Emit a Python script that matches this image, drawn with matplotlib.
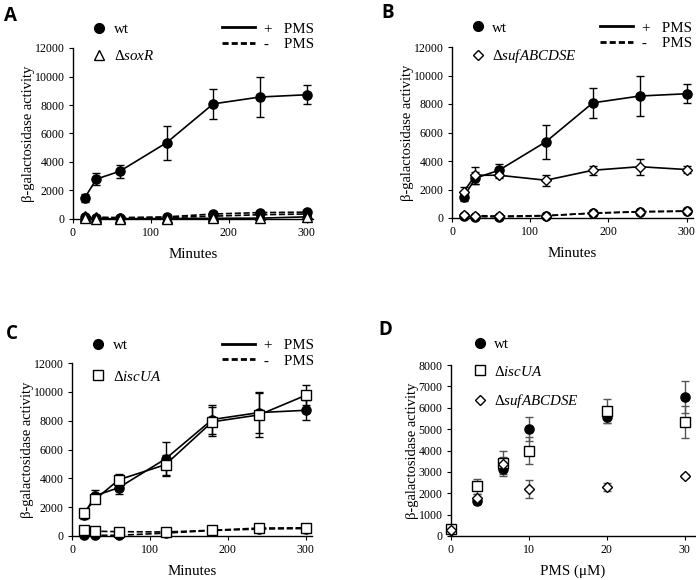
import matplotlib
matplotlib.use("Agg")
import matplotlib.pyplot as plt
from matplotlib.lines import Line2D

plt.rcParams['font.family'] = ['Liberation Serif', 'DejaVu Serif']
plt.rcParams['mathtext.fontset'] = 'custom'
plt.rcParams['mathtext.rm'] = 'Liberation Serif'
plt.rcParams['mathtext.it'] = 'Liberation Serif:italic'

# ---------------- data ----------------
minutes = [15, 30, 60, 120, 180, 240, 300]

wt_pms = [1480, 2800, 3350, 5350, 8080, 8560, 8720]
wt_pms_err = [300, 420, 470, 1200, 1030, 1400, 680]
wt_nopms = [150, 100, 80, 150, 350, 450, 480]
wt_nopms_err = [40, 30, 30, 40, 60, 60, 60]

soxR_pms = [100, 20, 20, 30, 50, 60, 150]
soxR_pms_err = [30, 10, 10, 10, 20, 20, 30]
soxR_nopms = [200, 120, 100, 100, 200, 300, 350]
soxR_nopms_err = [40, 30, 30, 30, 40, 50, 50]

suf_pms = [1850, 3000, 3000, 2650, 3350, 3600, 3400]
suf_pms_err = [300, 600, 200, 400, 300, 550, 250]
suf_nopms = [200, 170, 130, 170, 330, 430, 480]
suf_nopms_err = [40, 30, 30, 30, 50, 60, 60]

wtC_nopms = [80, 50, 50, 200, 380, 480, 520]
wtC_nopms_err = [30, 20, 20, 40, 50, 60, 60]
isc_pms = [1600, 2550, 3900, 4950, 7920, 8400, 9760]
isc_pms_err = [200, 200, 400, 700, 1000, 1550, 700]
isc_nopms = [400, 330, 300, 280, 400, 550, 570]
isc_nopms_err = [50, 40, 40, 40, 50, 60, 60]

pms_conc = [0, 3.3, 6.7, 10, 20, 30]
d_wt = [280, 1650, 3150, 5000, 5580, 6500]
d_wt_err = [100, 150, 250, 550, 300, 750]
d_isc = [320, 2320, 3400, 4000, 5850, 5330]
d_isc_err = [100, 350, 600, 650, 550, 750]
d_suf = [280, 1800, 3350, 2200, 2300, 2800]
d_suf_err = [100, 150, 350, 400, 200, 100]

ylabel = "β-galactosidase activity"

fig = plt.figure(figsize=(6.96, 5.80), dpi=100)

W, H = 696.0, 580.0
def axes_px(left, top, right, bottom):
    return fig.add_axes([left / W, 1 - bottom / H, (right - left) / W, (bottom - top) / H])

axA = axes_px(73, 48, 313, 219)
axB = axes_px(452, 47, 693, 218)
axC = axes_px(72, 363, 312, 536)
axD = axes_px(451, 365, 695, 536)

MS = 6.6
LW = 1.2
CAP = 3

def style(ax, xlim, ylim, yticks, xticks):
    ax.set_xlim(*xlim)
    ax.set_ylim(*ylim)
    ax.set_yticks(yticks)
    ax.set_xticks(xticks)
    for s in ['top', 'right']:
        ax.spines[s].set_visible(False)
    for s in ['left', 'bottom']:
        ax.spines[s].set_linewidth(1.0)
    ax.tick_params(direction='out', length=3, width=0.8, labelsize=8.6, pad=3)
    ax.set_ylabel(ylabel, fontsize=10.5, labelpad=0)

def series(ax, x, y, e, marker, filled, ls):
    ms = MS - 1 if marker == 'D' else MS
    ax.errorbar(x, y, yerr=e, color='black', ls=ls, lw=LW, marker=marker,
                ms=ms, mfc='black' if filled else 'white', mec='black', mew=1.0,
                ecolor='black', elinewidth=1.0, capsize=CAP, capthick=1.0,
                clip_on=False, zorder=3)

def mk_handles(markers):
    hs = []
    for m in markers:
        if m == 'o':
            hs.append(Line2D([], [], ls='none', marker='o', ms=7, mfc='black', mec='black'))
        else:
            hs.append(Line2D([], [], ls='none', marker=m, ms=5.5 if m == 'D' else 6.5,
                             mfc='white', mec='black', mew=1.0))
    return hs

def legends(ax, mut_marker, mut_label, xm, ym, xl, yl, mspacing):
    leg1 = ax.legend(mk_handles(['o', mut_marker]), ['wt', mut_label], loc='upper left',
                     bbox_to_anchor=(xm, ym), frameon=False, fontsize=10.8,
                     handlelength=0.8, handletextpad=0.55,
                     borderpad=0, borderaxespad=0, labelspacing=mspacing)
    ax.add_artist(leg1)
    h2 = [Line2D([], [], color='black', lw=2.0, ls='-'),
          Line2D([], [], color='black', lw=2.0, ls=(0, (2.2, 1.1)))]
    ax.legend(h2, ['+   PMS', '-    PMS'], loc='upper left', bbox_to_anchor=(xl, yl),
              frameon=False, fontsize=10.8, handlelength=2.2, handletextpad=0.6,
              borderpad=0, borderaxespad=0, labelspacing=0.12)

time_xt = [0, 100, 200, 300]
yt12 = list(range(0, 12001, 2000))

# ---------------- A ----------------
style(axA, (0, 308), (0, 12000), yt12, time_xt)
series(axA, minutes, soxR_nopms, soxR_nopms_err, '^', False, '--')
series(axA, minutes, wt_nopms, wt_nopms_err, 'o', True, '--')
series(axA, minutes, soxR_pms, soxR_pms_err, '^', False, '-')
series(axA, minutes, wt_pms, wt_pms_err, 'o', True, '-')
axA.set_xlabel('Minutes', fontsize=10.8, labelpad=6)
legends(axA, '^', r'Δ$\it{soxR}$', 0.085, 1.147, 0.62, 1.152, 0.85)

# ---------------- B ----------------
style(axB, (0, 308), (0, 12000), yt12, time_xt)
series(axB, minutes, wt_nopms, wt_nopms_err, 'o', True, '--')
series(axB, minutes, suf_nopms, suf_nopms_err, 'D', False, '--')
series(axB, minutes, wt_pms, wt_pms_err, 'o', True, '-')
series(axB, minutes, suf_pms, suf_pms_err, 'D', False, '-')
axB.set_xlabel('Minutes', fontsize=10.8, labelpad=6)
legends(axB, 'D', r'Δ$\it{sufABCDSE}$', 0.083, 1.152, 0.614, 1.152, 0.85)

# ---------------- C ----------------
style(axC, (0, 308), (0, 12000), yt12, time_xt)
series(axC, minutes, wtC_nopms, wtC_nopms_err, 'o', True, '--')
series(axC, minutes, isc_nopms, isc_nopms_err, 's', False, '--')
series(axC, minutes, wt_pms, wt_pms_err, 'o', True, '-')
series(axC, minutes, isc_pms, isc_pms_err, 's', False, '-')
axC.set_xlabel('Minutes', fontsize=10.8, labelpad=6)
legends(axC, 's', r'Δ$\it{iscUA}$', 0.085, 1.14, 0.625, 1.14, 1.15)

# ---------------- D ----------------
style(axD, (0, 31.3), (0, 8000), list(range(0, 8001, 1000)), [0, 10, 20, 30])
for y, e, m, f in [(d_wt, d_wt_err, 'o', True), (d_isc, d_isc_err, 's', False),
                   (d_suf, d_suf_err, 'D', False)]:
    axD.errorbar(pms_conc, y, yerr=e, ls='none', marker=m,
                 ms=MS - 1 if m == 'D' else MS,
                 mfc='black' if f else 'white', mec='black', mew=1.0,
                 ecolor='#555555', elinewidth=1.0, capsize=CAP, capthick=1.0,
                 clip_on=False, zorder=3)
axD.set_xlabel('PMS (μM)', fontsize=10.8, labelpad=6)
axD.legend(mk_handles(['o', 's', 'D']), ['wt', r'Δ$\it{iscUA}$', r'Δ$\it{sufABCDSE}$'],
           loc='upper left', bbox_to_anchor=(0.095, 1.16), frameon=False, fontsize=10.8,
           handlelength=0.8, handletextpad=0.55, borderpad=0, borderaxespad=0,
           labelspacing=0.9)

# panel letters
for lab, x, y in [('A', 10, 16), ('B', 388, 13), ('C', 12, 334), ('D', 385, 330)]:
    fig.text(x / W, 1 - y / H, lab, fontsize=13.5, fontweight='bold',
             family=['Open Sans', 'DejaVu Sans'], ha='center', va='center')

fig.savefig('out.png', dpi=100)
